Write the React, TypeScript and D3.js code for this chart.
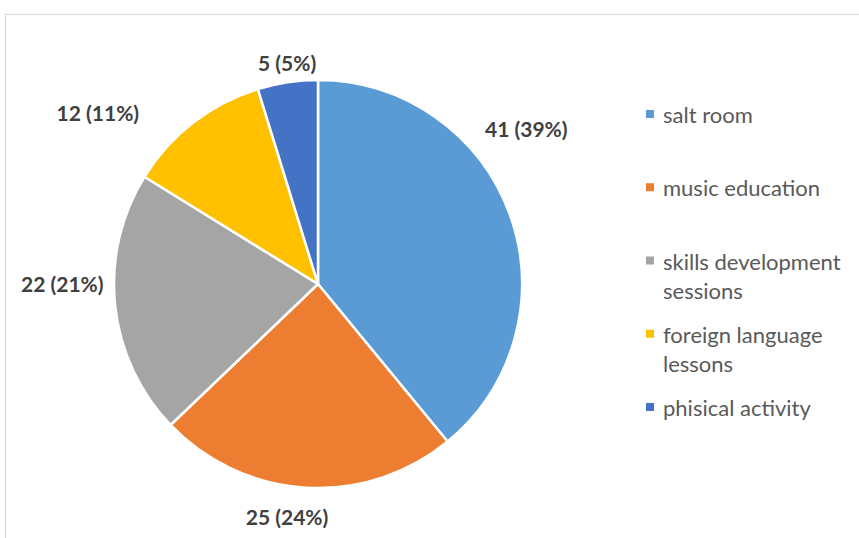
import React, { useEffect, useRef } from "react";
import * as d3 from "d3";

const categories = [
  "salt room",
  "music education",
  "skills development sessions",
  "foreign language lessons",
  "phisical activity",
];
const values = [41, 25, 22, 12, 5];
const colors = ["#5B9BD5", "#ED7D31", "#A5A5A5", "#FFC000", "#4472C4"];

// label layout nudges (Excel-style outside-end placement), in px
const labelNudge: [number, number][] = [
  [-12, -77],
  [-17, -1],
  [-23, -25],
  [-77, 14],
  [4, 10],
];

const W = 859;
const H = 538;
const CX = 318;
const CY = 284;
const R = 204;

export default function App() {
  const ref = useRef<SVGSVGElement | null>(null);

  useEffect(() => {
    const svg = d3.select(ref.current);
    svg.selectAll("*").remove();

    svg
      .append("rect")
      .attr("x", 5.5)
      .attr("y", 14.5)
      .attr("width", 1000)
      .attr("height", 1000)
      .attr("fill", "#fff")
      .attr("stroke", "#d9d9d9")
      .attr("stroke-width", 1);

    const total = d3.sum(values);
    const pie = d3
      .pie<number>()
      .sort(null)
      .value((d) => d);
    const arcs = pie(values);
    const arc = d3.arc<d3.PieArcDatum<number>>().innerRadius(0).outerRadius(R);

    const g = svg.append("g").attr("transform", `translate(${CX},${CY})`);
    g.selectAll("path")
      .data(arcs)
      .join("path")
      .attr("d", arc)
      .attr("fill", (_, i) => colors[i])
      .attr("stroke", "#fff")
      .attr("stroke-width", 2.5)
      .attr("stroke-linejoin", "round");

    g.selectAll("text.lbl")
      .data(arcs)
      .join("text")
      .attr("class", "lbl")
      .attr("x", (d, i) => {
        const a = (d.startAngle + d.endAngle) / 2;
        return (R + 30) * Math.sin(a) + labelNudge[i][0];
      })
      .attr("y", (d, i) => {
        const a = (d.startAngle + d.endAngle) / 2;
        return -(R + 30) * Math.cos(a) + labelNudge[i][1];
      })
      .attr("text-anchor", "middle")
      .attr("dominant-baseline", "central")
      .attr("font-family", "Lato, 'Open Sans', sans-serif")
      .attr("font-weight", "bold")
      .attr("font-size", 21)
      .attr("fill", "#404040")
      .text((d) => `${d.data} (${Math.round((d.data / total) * 100)}%)`);

    // legend
    const fontSize = 22;
    const canvas = document.createElement("canvas");
    const ctx = canvas.getContext("2d")!;
    ctx.font = `${fontSize}px Lato`;
    const maxW = 190;
    const wrap = (s: string) => {
      const words = s.split(" ");
      const lines: string[] = [];
      let cur = "";
      for (const w of words) {
        const t = cur ? cur + " " + w : w;
        if (ctx.measureText(t).width > maxW && cur) {
          lines.push(cur);
          cur = w;
        } else cur = t;
      }
      if (cur) lines.push(cur);
      return lines;
    };
    const ly = d3
      .scalePoint<string>()
      .domain(categories)
      .range([114, 407]);
    const lg = svg.append("g");
    categories.forEach((c, i) => {
      const y = ly(c)!;
      lg.append("rect")
        .attr("x", 646)
        .attr("y", y - 4)
        .attr("width", 8)
        .attr("height", 8)
        .attr("fill", colors[i]);
      const t = lg
        .append("text")
        .attr("x", 663)
        .attr("y", y)
        .attr("font-family", "Lato, 'Open Sans', sans-serif")
        .attr("font-size", fontSize)
        .attr("fill", "#595959")
        .attr("dominant-baseline", "central");
      wrap(c).forEach((line, j) => {
        t.append("tspan")
          .attr("x", 663)
          .attr("dy", j === 0 ? 0 : 29)
          .text(line);
      });
    });
  }, []);

  return (
    <svg
      ref={ref}
      width={W}
      height={H}
      style={{ position: "absolute", left: 0, top: 0, background: "#fff" }}
    />
  );
}
